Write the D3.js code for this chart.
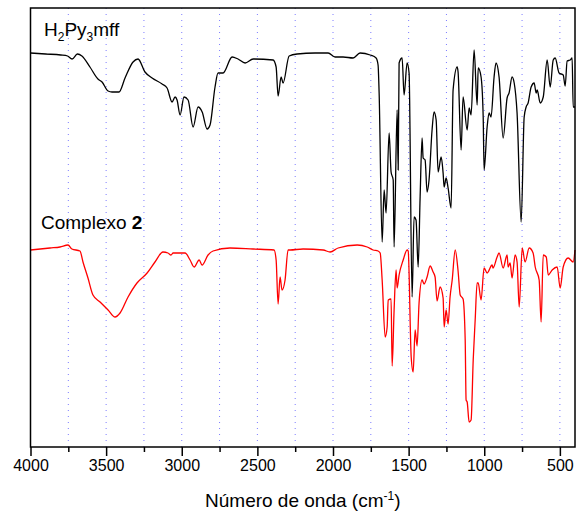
<!DOCTYPE html>
<html>
<head>
<meta charset="utf-8">
<script src="https://cdn.jsdelivr.net/npm/d3@7"></script>
<style>
  body { margin: 0; background: #fff; }
  svg { font-family: Arial, "Liberation Sans", sans-serif; }
</style>
</head>
<body>
<svg id="chart" width="576" height="517"></svg>
<script>
// Spectrum of the free ligand, [wavenumber (cm-1), transmittance (a.u.)]
const ligandSpectrum = [
  [4000,394],[3900,393],[3800,392],[3755,391],[3725,388],[3690,393],[3660,391],[3607,380],
  [3554,368],[3527,365],[3487,356],[3461,355],[3415,355],[3375,369],[3322,385],[3289,388],
  [3243,375],[3196,369],[3130,363],[3097,359],[3064,345],[3044,350],[3031,347],[3011,332],
  [2985,350],[2958,347],[2925,320],[2892,340],[2865,335],[2832,318],[2813,322],[2780,360],
  [2760,374],[2727,374],[2667,390],[2628,388],[2581,384],[2528,388],[2396,387],[2376,380],
  [2363,351],[2343,370],[2330,364],[2290,391],[2237,393],[2118,394],[2032,394],[1986,390],
  [1933,390],[1867,389],[1821,394],[1754,392],[1715,389],[1702,382],[1695,354],[1675,205],
  [1662,257],[1649,234],[1629,314],[1616,275],[1602,267],[1596,200],[1576,337],[1569,277],
  [1563,384],[1543,389],[1530,352],[1510,384],[1497,374],[1477,150],[1464,230],[1451,227],
  [1437,180],[1424,250],[1411,309],[1404,289],[1391,287],[1378,255],[1365,267],[1345,317],
  [1332,335],[1318,327],[1305,275],[1285,290],[1272,274],[1265,260],[1252,269],[1239,259],
  [1219,239],[1206,357],[1179,380],[1173,375],[1153,297],[1140,350],[1113,317],[1100,339],
  [1087,332],[1067,397],[1047,342],[1040,379],[1021,370],[1007,330],[1001,277],[981,320],
  [968,334],[955,330],[935,370],[922,384],[902,370],[875,309],[849,349],[836,354],
  [816,370],[802,364],[783,334],[756,225],[736,330],[723,340],[710,344],[690,360],
  [670,364],[657,354],[650,357],[630,344],[610,350],[584,387],[564,360],[544,387],
  [531,389],[505,374],[478,372],[465,361],[452,386],[432,387],[419,389],[412,340],[400,340]
];

// Spectrum of complex 2
const complexSpectrum = [
  [4000,197],[3871,199],[3805,200],[3752,202],[3726,198],[3673,196],[3653,185],[3620,169],
  [3587,152],[3540,145],[3487,137],[3441,130],[3408,134],[3355,150],[3296,164],[3229,174],
  [3177,185],[3124,195],[3091,194],[3071,192],[3057,194],[2978,194],[2945,187],[2918,180],
  [2885,187],[2866,182],[2826,192],[2793,196],[2681,199],[2528,198],[2390,197],[2376,187],
  [2363,143],[2350,170],[2337,157],[2317,167],[2297,197],[2284,197],[2198,198],[2065,197],
  [2019,195],[1966,199],[1840,202],[1774,200],[1735,197],[1702,196],[1688,194],[1675,167],
  [1655,110],[1642,120],[1635,147],[1616,148],[1609,81],[1596,137],[1583,177],[1576,159],
  [1563,172],[1536,187],[1510,197],[1503,196],[1483,90],[1470,75],[1457,117],[1444,101],
  [1431,144],[1411,167],[1398,163],[1378,170],[1358,181],[1338,175],[1325,170],[1312,146],
  [1292,160],[1272,149],[1265,120],[1252,137],[1239,123],[1226,150],[1212,167],[1192,197],
  [1173,176],[1159,152],[1140,148],[1126,107],[1120,47],[1113,45],[1100,25],[1087,27],
  [1073,87],[1060,127],[1047,164],[1040,164],[1021,147],[1001,179],[981,174],[948,182],
  [942,179],[915,190],[902,194],[875,179],[849,192],[842,180],[829,184],[816,169],
  [796,192],[783,185],[769,140],[749,199],[730,185],[703,199],[677,194],[663,180],
  [637,167],[624,125],[610,192],[590,190],[577,172],[551,177],[518,180],[498,159],
  [478,180],[445,189],[412,185],[400,197]
];

const majorTicks = [4000, 3500, 3000, 2500, 2000, 1500, 1000, 500];
const minorTicks = [3750, 3250, 2750, 2250, 1750, 1250, 750];
const gridLines = [3750, 3500, 3250, 3000, 2750, 2500, 2250, 2000, 1750, 1500, 1250, 1000, 750, 500];

const margin = { top: 8, right: 1, bottom: 70, left: 30.5 };
const width = 576, height = 517;

const svg = d3.select("#chart");

const x = d3.scaleLinear()
    .domain([4000, 400])
    .range([margin.left, width - margin.right]);

const y = d3.scaleLinear()
    .domain([0, 439])
    .range([height - margin.bottom, margin.top]);

// dotted vertical grid
svg.append("g")
    .selectAll("line")
    .data(gridLines)
    .enter()
    .append("line")
    .attr("x1", d => x(d))
    .attr("x2", d => x(d))
    .attr("y1", margin.top)
    .attr("y2", height - margin.bottom)
    .attr("stroke", "#7b7bff")
    .attr("stroke-width", 1)
    .attr("stroke-dasharray", "1,5");

const line = d3.line()
    .x(d => x(d[0]))
    .y(d => y(d[1]))
    .curve(d3.curveMonotoneX);

svg.append("path")
    .datum(ligandSpectrum)
    .attr("fill", "none")
    .attr("stroke", "#000")
    .attr("stroke-width", 1.3)
    .attr("stroke-linejoin", "round")
    .attr("d", line);

svg.append("path")
    .datum(complexSpectrum)
    .attr("fill", "none")
    .attr("stroke", "#ff0000")
    .attr("stroke-width", 1.3)
    .attr("stroke-linejoin", "round")
    .attr("d", line);

// frame
svg.append("rect")
    .attr("x", margin.left)
    .attr("y", margin.top)
    .attr("width", width - margin.right - margin.left)
    .attr("height", height - margin.bottom - margin.top)
    .attr("fill", "none")
    .attr("stroke", "#000")
    .attr("stroke-width", 1.5);

// x axis
const xAxis = svg.append("g")
    .attr("transform", `translate(0,${height - margin.bottom})`)
    .call(d3.axisBottom(x).tickValues(majorTicks).tickFormat(d3.format("d"))
        .tickSize(9).tickSizeOuter(0).tickPadding(4));
xAxis.select(".domain").remove();
xAxis.selectAll(".tick line").attr("stroke-width", 1.5);
xAxis.selectAll("text")
    .attr("font-size", 16)
    .attr("font-family", "Arial, 'Liberation Sans', sans-serif")
    .attr("fill", "#000");

svg.append("g")
    .attr("transform", `translate(0,${height - margin.bottom})`)
    .call(d3.axisBottom(x).tickValues(minorTicks).tickSize(5).tickFormat(""))
    .call(g => g.select(".domain").remove())
    .selectAll(".tick line").attr("stroke-width", 1.5);

// x title
const title = svg.append("text")
    .attr("x", (margin.left + width - margin.right) / 2)
    .attr("y", 507)
    .attr("text-anchor", "middle")
    .attr("font-size", 19);
title.append("tspan").text("Número de onda (cm");
title.append("tspan").attr("dy", -7).attr("font-size", 12).text("-1");
title.append("tspan").attr("dy", 7).text(")");

// series labels
const lab1 = svg.append("text")
    .attr("x", 44)
    .attr("y", 36)
    .attr("font-size", 19);
lab1.append("tspan").text("H");
lab1.append("tspan").attr("dy", 5).attr("font-size", 12).text("2");
lab1.append("tspan").attr("dy", -5).text("Py");
lab1.append("tspan").attr("dy", 5).attr("font-size", 12).text("3");
lab1.append("tspan").attr("dy", -5).text("mff");

const lab2 = svg.append("text")
    .attr("x", 41)
    .attr("y", 229)
    .attr("font-size", 19);
lab2.append("tspan").text("Complexo ");
lab2.append("tspan").attr("font-weight", "bold").text("2");
</script>
</body>
</html>
